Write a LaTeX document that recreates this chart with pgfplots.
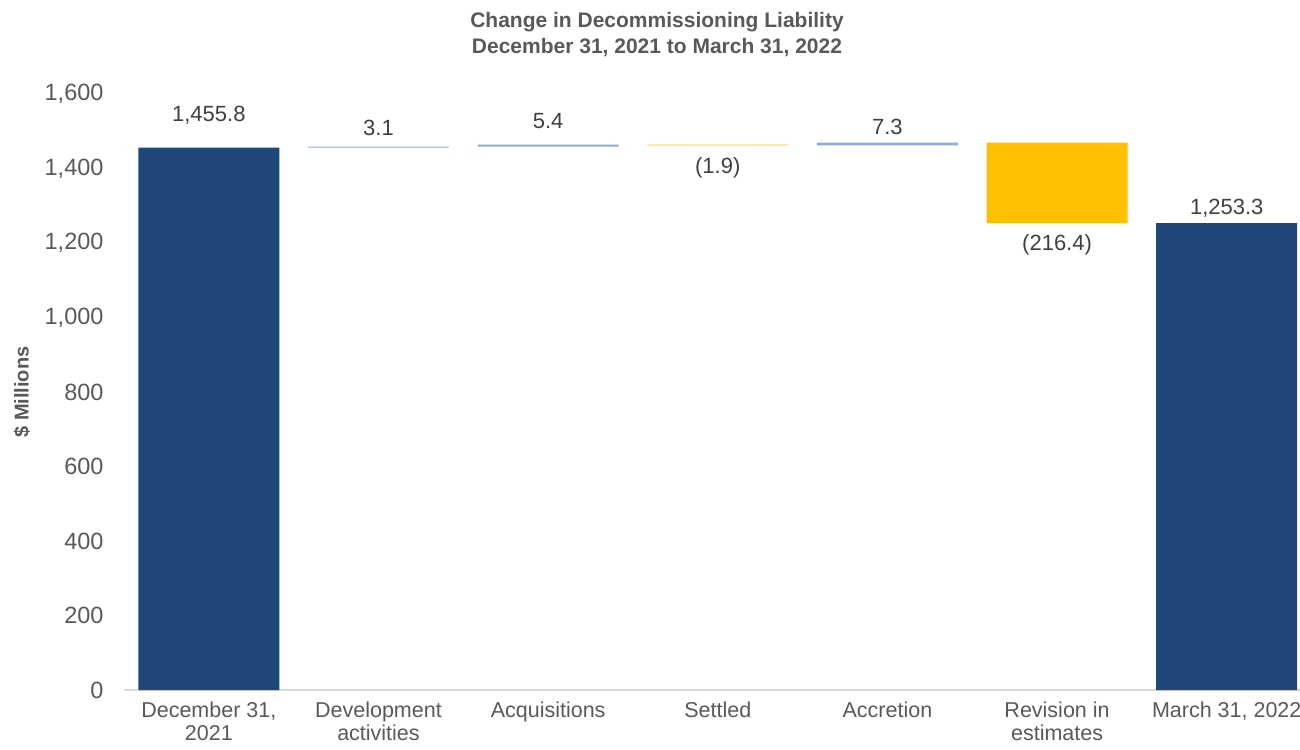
\documentclass[border=0pt]{standalone}
\usepackage{pgfplots}
\pgfplotsset{compat=1.18}
\usepackage{fontspec}
\setmainfont{Liberation Sans}
\definecolor{darkblue}{RGB}{31,71,120}
\definecolor{incblue}{RGB}{143,170,220}
\definecolor{decyellow}{RGB}{255,192,0}
\definecolor{txtgrey}{RGB}{89,89,89}
\definecolor{lblgrey}{RGB}{64,64,64}
\definecolor{axgrey}{RGB}{217,217,217}
\begin{document}
\begin{tikzpicture}
\useasboundingbox (0,0) rectangle (1300pt,-749pt);
\node[font=\bfseries\fontsize{21}{26}\selectfont, text=txtgrey, align=center] at (657pt,-35pt) {Change in Decommissioning Liability\\December 31, 2021 to March 31, 2022};
\begin{axis}[
  at={(124pt,-690pt)}, anchor=south west,
  scale only axis, width=1179pt, height=596pt,
  xmin=-0.5, xmax=6.45, ymin=0, ymax=1600,
  ybar stacked, bar width=141pt,
  axis lines*=left,
  y axis line style={draw=none},
  x axis line style={draw=axgrey, line width=1.2pt},
  xtick={0,1,2,3,4,5,6},
  xticklabels={{December 31,\\2021},{Development\\activities},Acquisitions,Settled,Accretion,{Revision in\\estimates},{March 31, 2022}},
  xticklabel style={align=center, font=\fontsize{21.5}{23}\selectfont, text=txtgrey, anchor=north, yshift=-11pt, inner ysep=1pt},
  major tick length=0pt,
  ytick={0,200,...,1600},
  yticklabel style={font=\fontsize{23.5}{24}\selectfont, text=txtgrey, xshift=-17pt},
  /pgf/number format/assume math mode=true,
  /pgf/number format/.cd, 1000 sep={,},
  /pgfplots/.cd,
  clip=false,
]
\addplot[fill=none, draw=none] coordinates {(0,0) (1,1455.8) (2,1458.9) (3,1462.4) (4,1462.4) (5,1253.3) (6,0)};
\addplot[fill=darkblue, draw=none] coordinates {(0,1455.8) (1,0) (2,0) (3,0) (4,0) (5,0) (6,1253.3)};
\addplot[fill=incblue, draw=none] coordinates {(0,0) (1,3.1) (2,5.4) (3,0) (4,7.3) (5,0) (6,0)};
\addplot[fill=decyellow, draw=none] coordinates {(0,0) (1,0) (2,0) (3,1.9) (4,0) (5,216.4) (6,0)};
\end{axis}
\begin{axis}[
  at={(124pt,-690pt)}, anchor=south west,
  scale only axis, width=1179pt, height=596pt,
  xmin=-0.5, xmax=6.45, ymin=0, ymax=1600,
  hide axis, clip=false,
]
\addplot[only marks, mark=none, nodes near coords, point meta=explicit symbolic,
  every node near coord/.style={anchor=center, font=\fontsize{22}{24}\selectfont, text=lblgrey}]
  table[meta=lab] {
x y lab
0 1543.6 1,455.8
1 1508.7 3.1
2 1527.5 5.4
3 1401.3 (1.9)
4 1511.4 7.3
5 1194.6 (216.4)
6 1294.0 1,253.3
};
\end{axis}
\node[font=\bfseries\fontsize{20}{24}\selectfont, text=txtgrey, rotate=90] at (22pt,-392pt) {\$ Millions};
\end{tikzpicture}
\end{document}
